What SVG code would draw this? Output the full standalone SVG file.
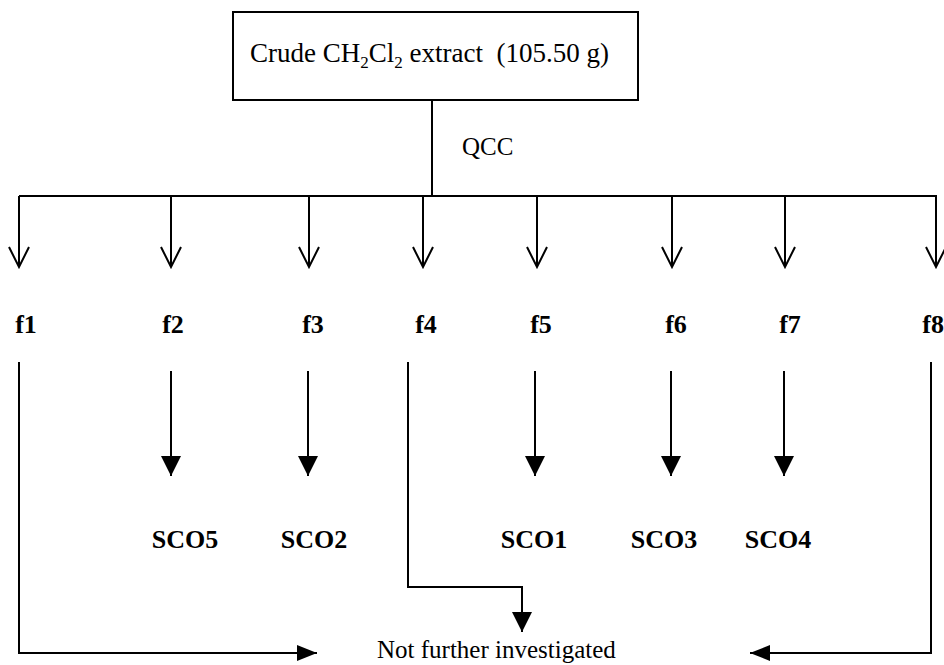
<svg xmlns="http://www.w3.org/2000/svg" width="944" height="665" viewBox="0 0 944 665">
<style>
.ln{fill:none;stroke:#000;stroke-width:2}
.t{font-family:"Liberation Serif","Times New Roman",serif;font-size:25px;fill:#000}
.title{font-size:27px}
.sub{font-size:17px}
.b{font-family:"Liberation Serif","Times New Roman",serif;font-size:26px;font-weight:bold;fill:#000;text-anchor:middle}
.end{text-anchor:end}
</style>
<defs>
<marker id="open" markerUnits="userSpaceOnUse" viewBox="-2 -2 24 24" markerWidth="24" markerHeight="24" refX="20" refY="10" orient="auto">
<path d="M0,0 L20,10 L0,20" fill="none" stroke="#000" stroke-width="2"/>
</marker>
<marker id="solid" markerUnits="userSpaceOnUse" viewBox="0 0 20 20" markerWidth="20" markerHeight="20" refX="20" refY="10" orient="auto">
<path d="M0,0 L20,10 L0,20 z" fill="#000"/>
</marker>
<marker id="solidh" markerUnits="userSpaceOnUse" viewBox="0 0 20 16" markerWidth="20" markerHeight="16" refX="20" refY="8" orient="auto">
<path d="M0,0 L20,8 L0,16 z" fill="#000"/>
</marker>
</defs>
<rect width="944" height="665" fill="#fff"/>
<g id="crude">
<rect x="233" y="12" width="405" height="88" class="ln"/>
<text class="t title" x="250" y="62" xml:space="preserve">Crude CH<tspan class="sub" dy="6">2</tspan><tspan dy="-6">Cl</tspan><tspan class="sub" dy="6">2</tspan><tspan dy="-6"> extract  (105.50 g)</tspan></text>
</g>
<g id="qcc-label"><text class="t" x="462" y="155">QCC</text></g>
<g id="f1"><text class="b" x="26" y="333">f1</text></g>
<g id="f2"><text class="b" x="173" y="333">f2</text></g>
<g id="f3"><text class="b" x="313" y="333">f3</text></g>
<g id="f4"><text class="b" x="426" y="333">f4</text></g>
<g id="f5"><text class="b" x="541" y="333">f5</text></g>
<g id="f6"><text class="b" x="676" y="333">f6</text></g>
<g id="f7"><text class="b" x="790" y="333">f7</text></g>
<g id="f8"><text class="b end" x="944" y="333">f8</text></g>
<g id="sco5"><text class="b" x="185" y="548">SCO5</text></g>
<g id="sco2"><text class="b" x="314" y="548">SCO2</text></g>
<g id="sco1"><text class="b" x="534" y="548">SCO1</text></g>
<g id="sco3"><text class="b" x="664" y="548">SCO3</text></g>
<g id="sco4"><text class="b" x="778" y="548">SCO4</text></g>
<g id="nfi"><text class="t" x="377" y="658">Not further investigated</text></g>
<g id="connectors">
<path class="ln" d="M432,100 V196"/>
<path class="ln" d="M19,196 H937"/>
<path class="ln" d="M19,196 V267" marker-end="url(#open)"/>
<path class="ln" d="M171,196 V267" marker-end="url(#open)"/>
<path class="ln" d="M309,196 V267" marker-end="url(#open)"/>
<path class="ln" d="M423,196 V267" marker-end="url(#open)"/>
<path class="ln" d="M537,196 V267" marker-end="url(#open)"/>
<path class="ln" d="M672,196 V267" marker-end="url(#open)"/>
<path class="ln" d="M785,196 V267" marker-end="url(#open)"/>
<path class="ln" d="M936,196 V267" marker-end="url(#open)"/>
<path class="ln" d="M171,371 V476" marker-end="url(#solid)"/>
<path class="ln" d="M308,371 V476" marker-end="url(#solid)"/>
<path class="ln" d="M535,371 V476" marker-end="url(#solid)"/>
<path class="ln" d="M671,371 V476" marker-end="url(#solid)"/>
<path class="ln" d="M784,371 V476" marker-end="url(#solid)"/>
<path class="ln" d="M19,362 V653 H317" marker-end="url(#solidh)"/>
<path class="ln" d="M408,362 V587 H522 V632" marker-end="url(#solid)"/>
<path class="ln" d="M931,362 V653 H750" marker-end="url(#solidh)"/>
</g>
</svg>
